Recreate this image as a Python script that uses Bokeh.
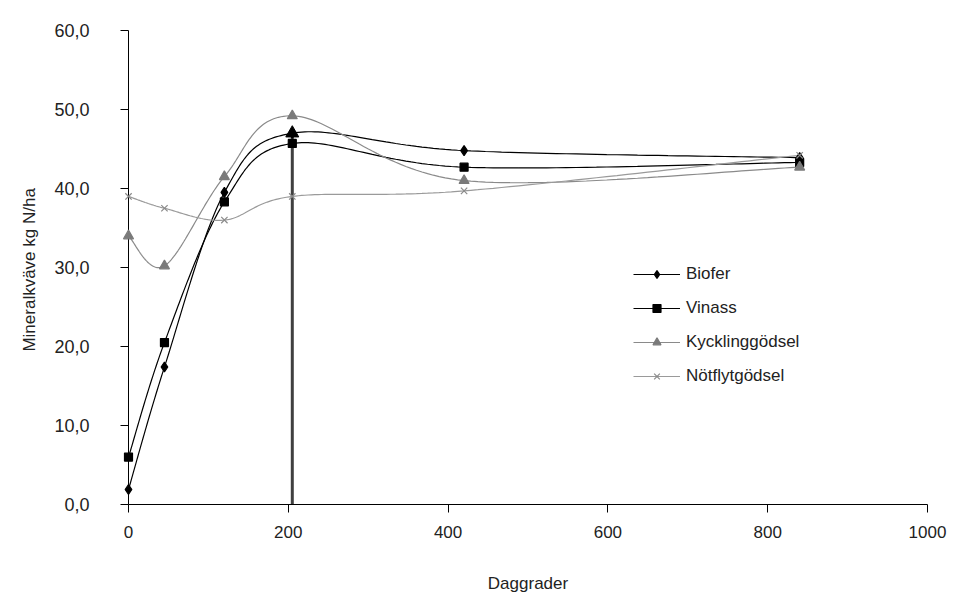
import numpy as np
from bokeh.plotting import figure
from bokeh.models import Range1d, FixedTicker, Legend, LegendItem
from bokeh.embed import file_html
from bokeh.resources import INLINE

# ---- data ----
days = [0, 45, 120, 205, 420, 840]
biofer = [1.9, 17.4, 39.5, 47.0, 44.8, 43.9]
vinass = [6.0, 20.5, 38.3, 45.7, 42.7, 43.3]
kyckling = [34.0, 30.2, 41.5, 49.2, 41.0, 42.7]
notflyt = [39.0, 37.5, 36.0, 39.0, 39.7, 44.2]
series_names = ["Biofer", "Vinass", "Kycklinggödsel", "Nötflytgödsel"]
x_ticks = [0, 200, 400, 600, 800, 1000]
y_ticks = [0, 10, 20, 30, 40, 50, 60]
y_tick_labels = ["0,0", "10,0", "20,0", "30,0", "40,0", "50,0", "60,0"]
x_title = "Daggrader"
y_title = "Mineralkväve  kg N/ha"


def smooth(xs, ys, n=40):
    """Excel-like smoothed line (Catmull-Rom style Bezier through the points)."""
    pts = np.column_stack([xs, ys]).astype(float)
    P = np.vstack([pts[0], pts, pts[-1]])
    ox, oy = [], []
    t = np.linspace(0, 1, n)[:, None]
    for i in range(1, len(P) - 2):
        p0, p1, p2, p3 = P[i - 1], P[i], P[i + 1], P[i + 2]
        c1 = p1 + (p2 - p0) / 6.0
        c2 = p2 - (p3 - p1) / 6.0
        seg = ((1 - t) ** 3) * p1 + 3 * ((1 - t) ** 2) * t * c1 + 3 * (1 - t) * (t ** 2) * c2 + (t ** 3) * p2
        ox.extend(seg[:, 0].tolist())
        oy.extend(seg[:, 1].tolist())
    return ox, oy


FONT = "Liberation Sans"

p = figure(width=952, height=595, output_backend="svg", toolbar_location=None,
           x_range=Range1d(0, 1000), y_range=Range1d(0, 60),
           min_border_left=128, min_border_right=25, min_border_top=30, min_border_bottom=90)
p.outline_line_color = None
p.xgrid.visible = False
p.ygrid.visible = False
p.background_fill_color = "white"
p.border_fill_color = "white"

# axes
p.xaxis.ticker = FixedTicker(ticks=x_ticks)
p.yaxis.ticker = FixedTicker(ticks=y_ticks)
p.yaxis.major_label_overrides = {t: l for t, l in zip(y_ticks, y_tick_labels)}
for ax in (p.xaxis[0], p.yaxis[0]):
    ax.axis_line_color = "black"
    ax.axis_line_width = 1
    ax.major_tick_line_color = "black"
    ax.major_tick_out = 8
    ax.major_tick_in = 0
    ax.minor_tick_line_color = None
    ax.major_label_text_font = FONT
    ax.major_label_text_color = "#222222"
    ax.axis_label_text_font = FONT
    ax.axis_label_text_font_size = "17px"
    ax.axis_label_text_font_style = "normal"
    ax.axis_label_text_color = "#222222"
p.xaxis.major_label_text_font_size = "17px"
p.yaxis.major_label_text_font_size = "18px"
p.xaxis.axis_label = x_title
p.yaxis.axis_label = y_title
p.xaxis.major_label_standoff = 13
p.xaxis.axis_label_standoff = 33
p.yaxis.major_label_standoff = 31
p.yaxis.axis_label_standoff = 12

# vertical marker line at the 4th observation
p.segment(x0=[days[3]], y0=[y_ticks[0]], x1=[days[3]], y1=[biofer[3]],
          line_color="#404040", line_width=3)

styles = [
    (biofer, "black", 1.2, "diamond", 10, "black"),
    (vinass, "black", 1.2, "square", 8, "black"),
    (kyckling, "#8a8a8a", 1.2, "triangle", 10, "#7a7a7a"),
    (notflyt, "#9a9a9a", 1.2, "x", 9, "#8a8a8a"),
]
items = []
for name, (ys, lc, lw, mk, ms, mc) in zip(series_names, styles):
    sx, sy = smooth(days, ys)
    lr = p.line(sx, sy, line_color=lc, line_width=lw)
    sr = p.scatter(days, ys, marker=mk, size=ms, fill_color=mc, line_color=mc,
                   line_width=1.2, level="overlay")
    items.append(LegendItem(label=name, renderers=[lr, sr]))

p.scatter([days[3]], [biofer[3]], marker="triangle", size=13, fill_color="black",
          line_color="black", level="overlay")

legend = Legend(items=items, location=(505, 118))
legend.border_line_color = None
legend.background_fill_alpha = 0
legend.padding = 0
legend.margin = 0
legend.spacing = 14
legend.glyph_width = 47
legend.glyph_height = 20
legend.label_standoff = 6
legend.label_text_font = FONT
legend.label_text_font_size = "17px"
legend.label_text_color = "#222222"
p.add_layout(legend)

open("out.html", "w").write(file_html(p, INLINE))
